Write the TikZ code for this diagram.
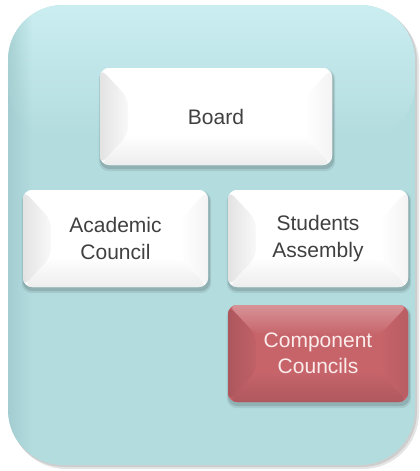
\documentclass[tikz,border=0pt]{standalone}
\usepackage{fontspec}
\setmainfont{Liberation Sans}
\usetikzlibrary{calc,fadings,backgrounds}
\pgfdeclarelayer{bglow}
\pgfsetlayers{bglow,background,main}
\definecolor{framecol}{HTML}{B3DCDF}
\definecolor{frametop}{HTML}{CBEEF1}
\definecolor{frameleft}{HTML}{9CC7CA}
\definecolor{textgray}{HTML}{404040}
\definecolor{redc}{HTML}{C6646A}
\definecolor{redtext}{HTML}{FCEBEB}
\tikzfading[name=fadedown, top color=transparent!0, bottom color=transparent!100]
\tikzfading[name=faderight, left color=transparent!0, right color=transparent!100]
\tikzset{
  box/.style={rectangle, rounded corners=9pt, minimum height=97pt, inner sep=0pt,
    align=center, font=\fontsize{21}{26.5}\selectfont, text=textgray},
  bevel/.style n args={6}{fill=#1, path picture={
    \path (path picture bounding box.north west) coordinate (pNW)
          (path picture bounding box.north east) coordinate (pNE)
          (path picture bounding box.south west) coordinate (pSW)
          (path picture bounding box.south east) coordinate (pSE);
    \path ([shift={(28pt,-30pt)}]pNW) coordinate (qNW)
          ([shift={(-28pt,-30pt)}]pNE) coordinate (qNE)
          ([shift={(28pt,30pt)}]pSW) coordinate (qSW)
          ([shift={(-28pt,30pt)}]pSE) coordinate (qSE);
    \shade[top color=#2, bottom color=#1] (pNW) -- (pNE) -- (qNE) -- (qNW) -- cycle;
    \shade[left color=#3, right color=#4] (pNW) -- (qNW) -- (qSW) -- (pSW) -- cycle;
    \shade[top color=#1, bottom color=#5] (pSW) -- (qSW) -- (qSE) -- (pSE) -- cycle;
    \shade[left color=#1, right color=#6] (pNE) -- (pSE) -- (qSE) -- (qNE) -- cycle;
  }},
  whitebox/.style={box, bevel={white}{white}{gray!22}{gray!5}{gray!14}{gray!9}},
  redbox/.style={box, text=redtext, bevel={redc}{redc!70!white}{redc!87!black}{redc!97!black}{redc!88!black}{redc!93!black}},
  boxshadow/.style={fill=black, opacity=0.12, rounded corners=10pt}
}
\begin{document}
\begin{tikzpicture}[x=1pt,y=-1pt]
\useasboundingbox (0,0) rectangle (420,471);

% boxes
\node[whitebox, minimum width=232pt] (board) at (216,116.5) {Board};
\node[whitebox, minimum width=185pt] (acad) at (115.5,238.5) {Academic\\Council};
\node[whitebox, minimum width=180pt] (stud) at (318,238.5) {Students\\Assembly};
\node[redbox, minimum width=180pt] (comp) at (318,353.5) {Component\\Councils};

% shadows of boxes
\begin{pgfonlayer}{background}
\foreach \b in {board,acad,stud,comp}{
  \fill[boxshadow] ([shift={(0pt,-2pt)}]\b.north west) rectangle ([shift={(2pt,-4pt)}]\b.south east);
  \fill[boxshadow, opacity=0.08] ([shift={(-1pt,-1pt)}]\b.north west) rectangle ([shift={(3pt,-6pt)}]\b.south east);
}
\end{pgfonlayer}

% frame
\begin{pgfonlayer}{bglow}
\fill[black, opacity=0.10, rounded corners=56pt] (10,8) rectangle (419,469);
\fill[black, opacity=0.10, rounded corners=55pt] (9,6) rectangle (417,467);
\fill[framecol, rounded corners=55pt] (8,5) rectangle (415,465);
\fill[frametop, path fading=fadedown, rounded corners=55pt] (8,5) rectangle (415,140);
\begin{scope}
  \clip[rounded corners=55pt] (8,5) rectangle (415,465);
  \fill[frameleft, opacity=0.7, path fading=faderight] (8,0) rectangle (32,471);
\end{scope}
\end{pgfonlayer}
\end{tikzpicture}
\end{document}
